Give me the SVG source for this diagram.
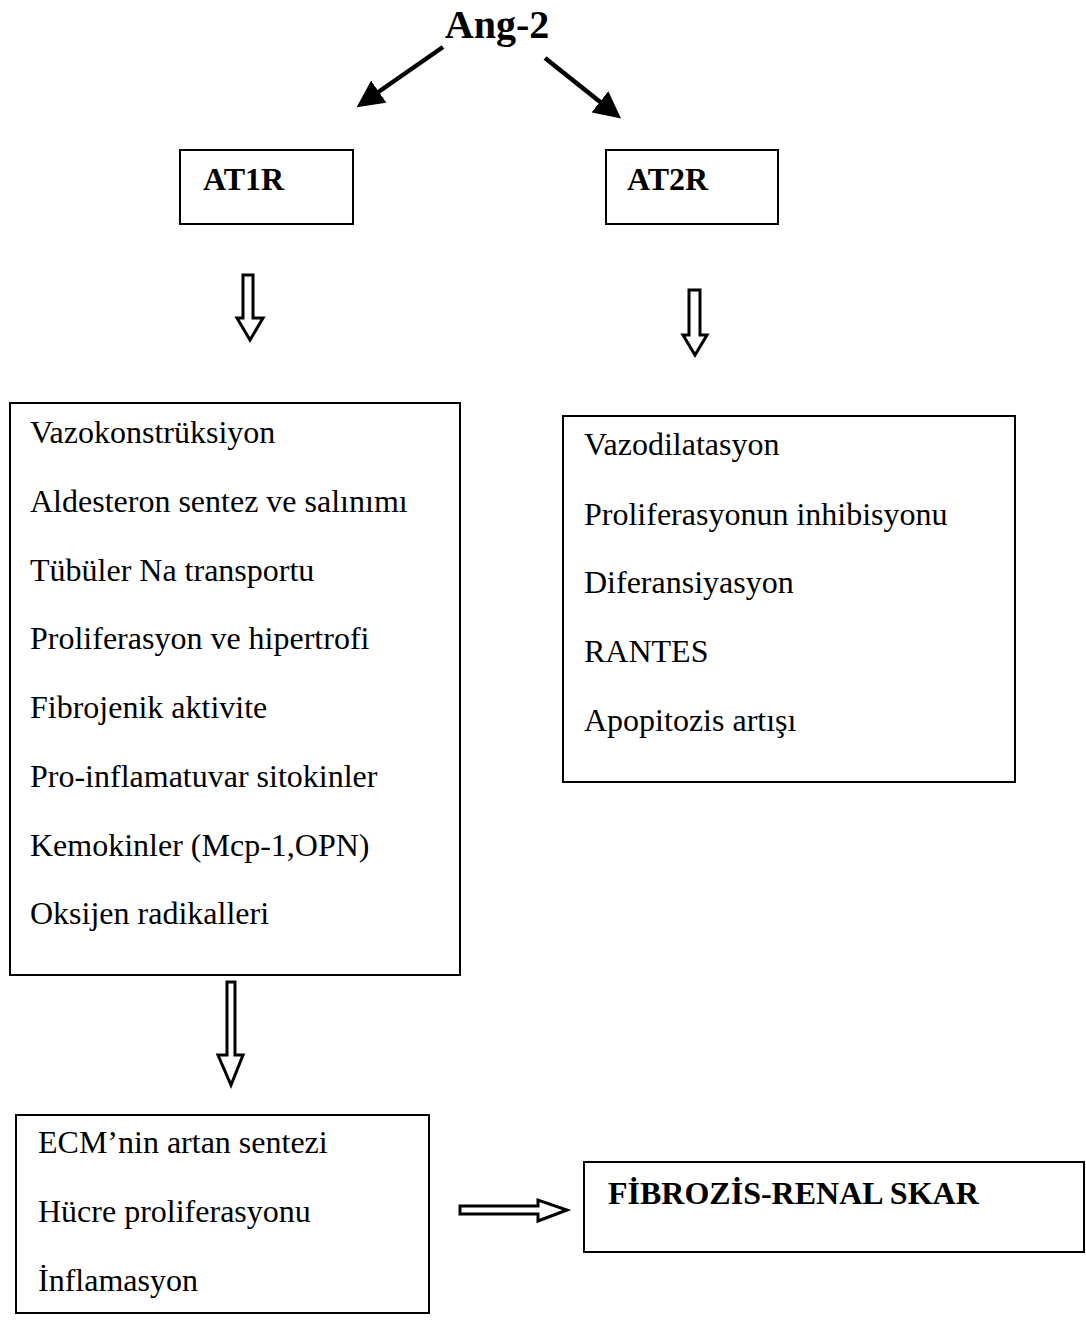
<svg xmlns="http://www.w3.org/2000/svg" width="1086" height="1320" viewBox="0 0 1086 1320">
<style>
.box{fill:#fff;stroke:#000;stroke-width:2}
.t{font-family:"Liberation Serif","Times New Roman",serif;font-size:32px;fill:#000}
.b{font-family:"Liberation Serif","Times New Roman",serif;font-size:32px;font-weight:bold;fill:#000}
.hollow{fill:#fff;stroke:#000;stroke-width:3;stroke-linejoin:miter}
.solid{stroke:#000;stroke-width:4.5;fill:none}
</style>
<defs>
<marker id="ah" markerWidth="6" markerHeight="6" refX="4" refY="3" orient="auto" markerUnits="strokeWidth">
<path d="M0,0 L6,3 L0,6 Z" fill="#000"/>
</marker>
</defs>
<rect width="1086" height="1320" fill="#fff"/>
<g id="ang2"><text class="b" x="497" y="38" text-anchor="middle" style="font-size:40px">Ang-2</text></g>
<g id="at1r"><rect class="box" x="180" y="150" width="173" height="74"/><text class="b" x="203" y="190">AT1R</text></g>
<g id="at2r"><rect class="box" x="606" y="150" width="172" height="74"/><text class="b" x="627" y="190">AT2R</text></g>
<g id="at1r-effects">
<rect class="box" x="10" y="403" width="450" height="572"/>
<text class="t" x="30" y="443">Vazokonstrüksiyon</text>
<text class="t" x="30" y="512">Aldesteron sentez ve salınımı</text>
<text class="t" x="30" y="581">Tübüler Na transportu</text>
<text class="t" x="30" y="649">Proliferasyon ve hipertrofi</text>
<text class="t" x="30" y="718">Fibrojenik aktivite</text>
<text class="t" x="30" y="787">Pro-inflamatuvar sitokinler</text>
<text class="t" x="30" y="856">Kemokinler (Mcp-1,OPN)</text>
<text class="t" x="30" y="924">Oksijen radikalleri</text>
</g>
<g id="at2r-effects">
<rect class="box" x="563" y="416" width="452" height="366"/>
<text class="t" x="584" y="455">Vazodilatasyon</text>
<text class="t" x="584" y="525">Proliferasyonun inhibisyonu</text>
<text class="t" x="584" y="593">Diferansiyasyon</text>
<text class="t" x="584" y="662">RANTES</text>
<text class="t" x="584" y="731">Apopitozis artışı</text>
</g>
<g id="ecm">
<rect class="box" x="16" y="1115" width="413" height="198"/>
<text class="t" x="38" y="1153">ECM’nin artan sentezi</text>
<text class="t" x="38" y="1222">Hücre proliferasyonu</text>
<text class="t" x="38" y="1291">İnflamasyon</text>
</g>
<g id="fibrozis">
<rect class="box" x="584" y="1162" width="500" height="90"/>
<text class="b" x="608" y="1204">FİBROZİS-RENAL SKAR</text>
</g>
<g id="connectors">
<line class="solid" x1="443" y1="47" x2="364" y2="102" marker-end="url(#ah)"/>
<line class="solid" x1="545" y1="58" x2="614" y2="113" marker-end="url(#ah)"/>
<path class="hollow" d="M243,275 H253 V318 H263 L250,340 L237,318 H243 Z"/>
<path class="hollow" d="M689,290 H700 V335 H707 L695,355 L683,335 H689 Z"/>
<path class="hollow" d="M227,982 H235 V1055 H243 L231,1085 L218,1055 H227 Z"/>
<path class="hollow" d="M460,1206 H538 V1200 L567,1210 L538,1221 V1214 H460 Z"/>
</g>
</svg>
